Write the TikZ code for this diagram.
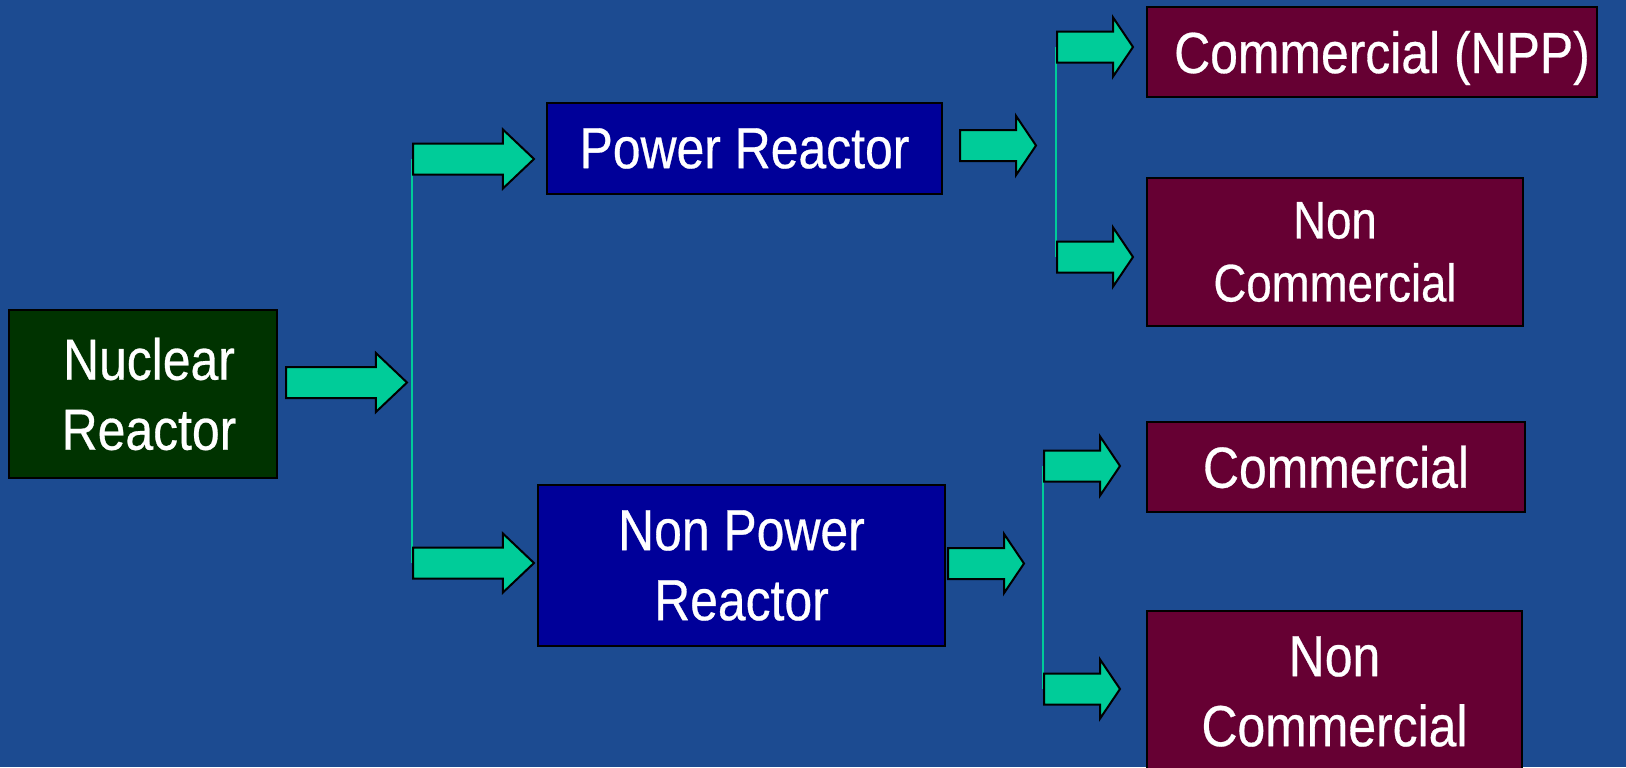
\documentclass[tikz,border=0pt]{standalone}
\usepackage{fontspec}
\setmainfont{Liberation Sans}
\newfontfamily\narrowfont[FakeStretch=0.86,FakeBold=0.5]{Liberation Sans}
\usetikzlibrary{shapes.arrows}
\pgfdeclarelayer{background}
\pgfsetlayers{background,main}
\definecolor{bgblue}{HTML}{1C4B91}
\definecolor{arrowgreen}{HTML}{00CC99}
\definecolor{darkgreen}{HTML}{003300}
\definecolor{royal}{HTML}{000099}
\definecolor{maroonbox}{HTML}{660033}
\begin{document}
\begin{tikzpicture}[x=0.5pt,y=-0.5pt,
  box/.style={draw=black, line width=1.2pt, inner sep=0pt, align=center, text=white,
    font=\narrowfont\fontsize{29pt}{35pt}\selectfont},
  smallbox/.style={box, font=\narrowfont\fontsize{26.5pt}{31.5pt}\selectfont},
  blockarrow/.style={single arrow, draw=black, fill=arrowgreen, line width=1pt,
    inner xsep=0pt, inner ysep=7.25pt, minimum width=0pt, single arrow head extend=7pt,
    single arrow head indent=0pt, anchor=tail},
  bigarrow/.style={blockarrow, minimum height=60.5pt, single arrow tip angle=87},
  shortarrow/.style={blockarrow, minimum height=38pt, single arrow tip angle=112},
  branch/.style={draw=arrowgreen, line width=1pt}
]
\useasboundingbox (0,0) rectangle (1626,767);
\begin{pgfonlayer}{background}
  \fill[bgblue] (0,0) rectangle (1626,767);
\end{pgfonlayer}
\clip (0,0) rectangle (1626,767);

% boxes
\node[box, fill=darkgreen, minimum width=134pt, minimum height=84pt] (nuc) at (143,394) {\hspace*{6pt}Nuclear\\\hspace*{6pt}Reactor};
\node[box, fill=royal, minimum width=197.5pt, minimum height=45.5pt] (pow) at (744.5,148.5) {Power Reactor};
\node[box, fill=royal, minimum width=203.5pt, minimum height=80.5pt] (npow) at (741.5,565.5) {Non Power\\Reactor};
\node[box, fill=maroonbox, minimum width=225pt, minimum height=45pt, text depth=0pt] (c1) at (1372,52) {\hspace*{10pt}Commercial (NPP)};
\node[smallbox, fill=maroonbox, minimum width=188pt, minimum height=74pt] (nc1) at (1335,252) {Non\\Commercial};
\node[box, fill=maroonbox, minimum width=189pt, minimum height=45pt] (c2) at (1336,467) {Commercial};
\node[box, fill=maroonbox, minimum width=187.5pt, minimum height=80.5pt] (nc2) at (1334.5,691.5) {Non\\Commercial};

% block arrows
\node[bigarrow] (a0) at (285,382.5) {};
\node[bigarrow] (aup) at (412,159) {};
\node[bigarrow] (alow) at (412,563) {};
\node[shortarrow] (a1) at (959,145.5) {};
\node[shortarrow] (a1u) at (1056,47) {};
\node[shortarrow] (a1d) at (1056,257) {};
\node[shortarrow] (a2) at (947,563.5) {};
\node[shortarrow] (a2u) at (1043,466) {};
\node[shortarrow] (a2d) at (1043,689) {};

% branch lines
\begin{pgfonlayer}{background}
  \draw[branch] (aup.tail) -- (alow.tail);
  \draw[branch] (a1u.tail) -- (a1d.tail);
  \draw[branch] (a2u.tail) -- (a2d.tail);
\end{pgfonlayer}
\end{tikzpicture}
\end{document}
